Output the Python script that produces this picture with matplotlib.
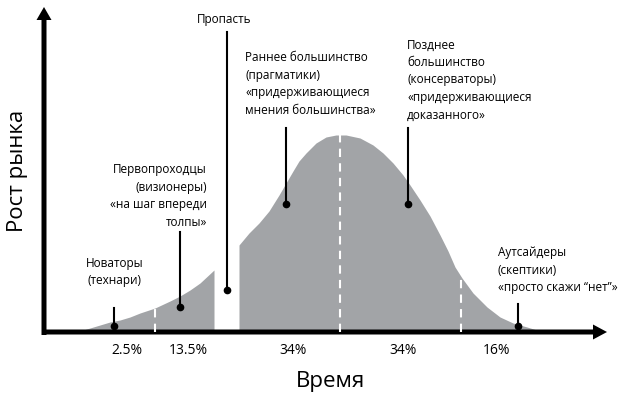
import numpy as np
import matplotlib
matplotlib.use('Agg')
import matplotlib.pyplot as plt

plt.rcParams['font.family'] = ['Open Sans', 'DejaVu Sans']

# adoption curve (time, market growth), split by the chasm
left_t = [36, 46, 56, 66, 76, 86, 96, 111, 126, 136, 146, 156, 170]
left_h = [1, 4, 7, 10, 12, 15, 19, 24, 31, 36, 42, 49, 62]
right_t = [195, 205, 215, 225, 235, 242, 249, 255, 262, 272, 282, 292, 302,
           316, 329, 339, 349, 359, 366, 376, 386, 396, 404, 411, 418, 429,
           443, 456, 469, 483, 496]
right_h = [87, 99, 109, 121, 137, 149, 161, 171, 179, 189, 195, 197, 197,
           194, 187, 179, 169, 157, 147, 132, 116, 97, 81, 65, 54, 39,
           25, 15, 9, 5, 1]

# group boundaries (dashed) and shares
bounds = [111, 296, 417]
shares = ['2.5%', '13.5%', '34%', '34%', '16%']
share_t = [83, 144, 249, 359, 453]

groups = ['Пропасть',
          'Раннее большинство\n(прагматики)\n«придерживающиеся\nмнения большинства»',
          'Позднее\nбольшинство\n(консерваторы)\n«придерживающиеся\nдоказанного»',
          'Первопроходцы\n(визионеры)\n«на шаг впереди\nтолпы»',
          'Новаторы\n(технари)',
          'Аутсайдеры\n(скептики)\n«просто скажи “нет”»']
# pointer: x, line top, dot ; label: x, y(center), ha
pointers = [(183, 300, 42), (242, 204, 128), (364, 204, 128),
            (136, 100, 25), (70, 24, 6), (474, 28, 6)]
labels = [(180, 312, 'center'), (201, 248, 'left'), (363, 252, 'left'),
          (163, 136, 'right'), (71, 60, 'center'), (454, 62, 'left')]

gray = '#a2a4a7'
fig = plt.figure(figsize=(6.31, 3.96), dpi=100)
ax = fig.add_axes([0, 0, 1, 1])
ax.set_xlim(-44, 587)
ax.set_ylim(-64, 332)
ax.axis('off')

ax.fill_between(left_t, 0, left_h, color=gray, lw=0)
ax.fill_between(right_t, 0, right_h, color=gray, lw=0)

all_t = left_t + right_t
all_h = left_h + right_h
for b in bounds:
    top = np.interp(b, all_t, all_h)
    ax.plot([b, b], [0, top], color='white', lw=1.5, ls=(0, (4, 3)))

# axes arrows
ax.arrow(0, -3, 0, 328, width=5, head_width=15, head_length=13,
         length_includes_head=True, color='black', lw=0)
ax.arrow(-2, 0, 565, 0, width=5, head_width=15, head_length=14,
         length_includes_head=True, color='black', lw=0)

for (px, top, dot) in pointers:
    ax.plot([px, px], [dot, top], color='black', lw=1.5)
    ax.plot(px, dot, 'o', color='black', ms=4.5)

for txt, (lx, ly, ha) in zip(groups, labels):
    ax.text(lx, ly, txt, ha=ha, va='center', fontsize=8.5,
            linespacing=1.45, color='black')

for s, t in zip(shares, share_t):
    ax.text(t, -18, s, ha='center', va='center', fontsize=10)

ax.text(-26, 161, 'Рост рынка', rotation=90, ha='center', va='center', fontsize=16)
ax.text(286, -49, 'Время', ha='center', va='center', fontsize=16)

fig.savefig('out.png', dpi=100)
